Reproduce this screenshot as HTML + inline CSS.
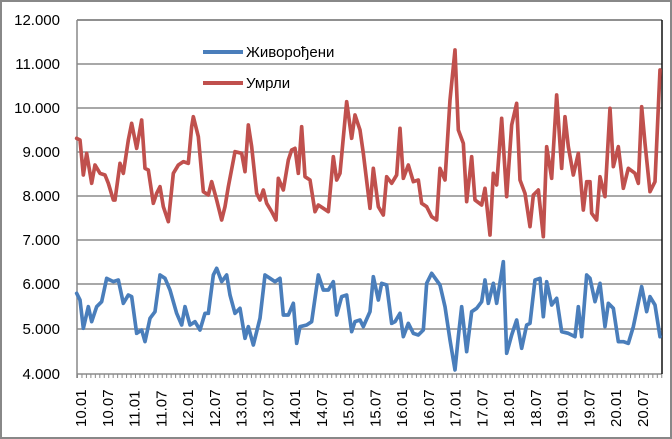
<!DOCTYPE html>
<html><head><meta charset="utf-8"><style>
html,body{margin:0;padding:0;background:#fff}
svg{display:block;font-family:"Liberation Sans","DejaVu Sans",sans-serif}
</style></head><body>
<svg width="672" height="439" viewBox="0 0 672 439" xmlns="http://www.w3.org/2000/svg">
<defs><pattern id="tk" x="77" y="0" width="4.46" height="439" patternUnits="userSpaceOnUse"><line x1="0.5" y1="0" x2="0.5" y2="439" stroke="#888" stroke-width="1"/></pattern></defs>
<rect x="1" y="1" width="670" height="437" fill="#fff" stroke="#888" stroke-width="2"/>
<g stroke="#8c8c8c" stroke-width="1.5">
<line x1="77" y1="64" x2="662" y2="64"/><line x1="77" y1="108" x2="662" y2="108"/>
<line x1="77" y1="152" x2="662" y2="152"/><line x1="77" y1="196" x2="662" y2="196"/>
<line x1="77" y1="240" x2="662" y2="240"/><line x1="77" y1="284" x2="662" y2="284"/>
<line x1="77" y1="329" x2="662" y2="329"/><line x1="77" y1="374" x2="662" y2="374"/>
</g>
<rect x="77" y="374" width="586" height="4" fill="url(#tk)"/>
<line x1="77" y1="20" x2="662" y2="20" stroke="#222" stroke-width="1"/>
<line x1="662" y1="20" x2="662" y2="374" stroke="#111" stroke-width="1.5"/>
<line x1="77" y1="20" x2="77" y2="378" stroke="#888" stroke-width="1.5"/>
<g font-size="15" fill="#000" text-anchor="end">
<text x="60" y="25">12.000</text><text x="60" y="69">11.000</text><text x="60" y="113">10.000</text>
<text x="60" y="157">9.000</text><text x="60" y="201">8.000</text><text x="60" y="245">7.000</text>
<text x="60" y="289">6.000</text><text x="60" y="334">5.000</text><text x="60" y="379">4.000</text>
</g>
<g font-size="15" fill="#000">
<text transform="translate(86,427) rotate(-90)">10.01</text>
<text transform="translate(112.8,427) rotate(-90)">10.07</text>
<text transform="translate(139.5,427) rotate(-90)">11.01</text>
<text transform="translate(166.3,427) rotate(-90)">11.07</text>
<text transform="translate(193,427) rotate(-90)">12.01</text>
<text transform="translate(219.8,427) rotate(-90)">12.07</text>
<text transform="translate(246.6,427) rotate(-90)">13.01</text>
<text transform="translate(273.3,427) rotate(-90)">13.07</text>
<text transform="translate(300.1,427) rotate(-90)">14.01</text>
<text transform="translate(326.8,427) rotate(-90)">14.07</text>
<text transform="translate(353.6,427) rotate(-90)">15.01</text>
<text transform="translate(380.4,427) rotate(-90)">15.07</text>
<text transform="translate(407.1,427) rotate(-90)">16.01</text>
<text transform="translate(433.9,427) rotate(-90)">16.07</text>
<text transform="translate(460.6,427) rotate(-90)">17.01</text>
<text transform="translate(487.4,427) rotate(-90)">17.07</text>
<text transform="translate(514.2,427) rotate(-90)">18.01</text>
<text transform="translate(540.9,427) rotate(-90)">18.07</text>
<text transform="translate(567.7,427) rotate(-90)">19.01</text>
<text transform="translate(594.4,427) rotate(-90)">19.07</text>
<text transform="translate(621.2,427) rotate(-90)">20.01</text>
<text transform="translate(648,427) rotate(-90)">20.07</text>
</g>
<g transform="translate(60,0) scale(0.33333)" fill="none" stroke-linejoin="round" stroke-linecap="round">
<polyline stroke="#c0504d" stroke-width="11" points="50,415 60,420 70,525 80,460 95,550 105,495 120,520 135,525 145,550 160,600 165,600 180,490 190,520 205,420 215,370 230,445 245,360 255,505 265,510 280,610 290,580 300,560 310,620 325,665 340,520 355,495 370,485 385,490 395,380 400,350 415,410 430,575 445,585 455,545 470,600 485,660 495,620 505,560 525,455 545,460 555,515 565,375 575,440 590,580 600,600 610,570 620,610 635,635 648,660 655,535 670,570 685,480 695,450 705,445 715,520 725,380 735,530 750,540 765,635 775,615 790,625 805,635 820,470 830,540 840,520 860,305 875,415 885,345 900,390 910,460 930,625 940,505 955,620 970,645 980,530 995,550 1010,525 1020,385 1030,535 1045,495 1060,545 1075,540 1085,610 1100,620 1115,650 1130,660 1140,505 1155,540 1170,300 1185,150 1195,390 1210,430 1220,605 1235,470 1245,600 1265,615 1275,565 1290,705 1300,520 1310,555 1325,355 1340,590 1355,375 1370,310 1380,540 1395,580 1410,680 1420,585 1435,570 1450,710 1460,440 1475,535 1490,285 1505,505 1515,350 1525,440 1540,525 1555,460 1570,630 1580,545 1590,545 1595,640 1610,660 1620,530 1635,590 1650,325 1660,500 1675,440 1690,565 1705,505 1725,520 1735,550 1745,320 1755,430 1770,575 1785,545 1800,210"/>
<polyline stroke="#4a7ebb" stroke-width="11" points="50,880 60,900 70,985 85,920 95,965 110,920 125,905 140,835 160,845 175,840 190,910 205,885 215,890 230,1000 245,990 255,1025 270,955 285,935 300,825 315,835 330,870 350,940 365,975 375,920 390,975 405,965 420,990 435,940 445,940 460,825 470,805 485,845 500,825 510,885 525,940 540,925 555,1015 565,980 580,1035 600,955 615,825 630,835 645,845 660,835 670,945 685,945 700,910 710,1030 720,980 740,975 755,965 775,825 790,870 805,870 820,845 830,945 845,890 860,885 875,995 885,965 900,960 910,980 930,935 940,830 955,900 965,850 980,855 995,970 1005,965 1020,940 1030,1010 1045,970 1060,1000 1075,1005 1090,990 1100,850 1115,820 1140,855 1155,920 1170,1020 1185,1110 1195,1010 1205,920 1220,1055 1235,935 1250,925 1265,905 1275,840 1285,910 1300,850 1310,910 1330,785 1340,1060 1355,1005 1370,960 1385,1045 1400,975 1410,970 1425,840 1440,835 1450,950 1460,845 1475,915 1490,895 1505,995 1525,1000 1545,1010 1555,920 1565,1010 1580,825 1590,835 1605,905 1620,850 1635,980 1645,910 1660,925 1675,1025 1690,1025 1705,1030 1720,980 1745,860 1760,935 1770,890 1785,915 1800,1010"/>
</g>
<line x1="203" y1="52" x2="243" y2="52" stroke="#4a7ebb" stroke-width="4"/>
<line x1="203" y1="83" x2="243" y2="83" stroke="#c0504d" stroke-width="4"/>
<text x="246" y="57" font-size="15">Живорођени</text>
<text x="246" y="88" font-size="15">Умрли</text>
</svg>
</body></html>
